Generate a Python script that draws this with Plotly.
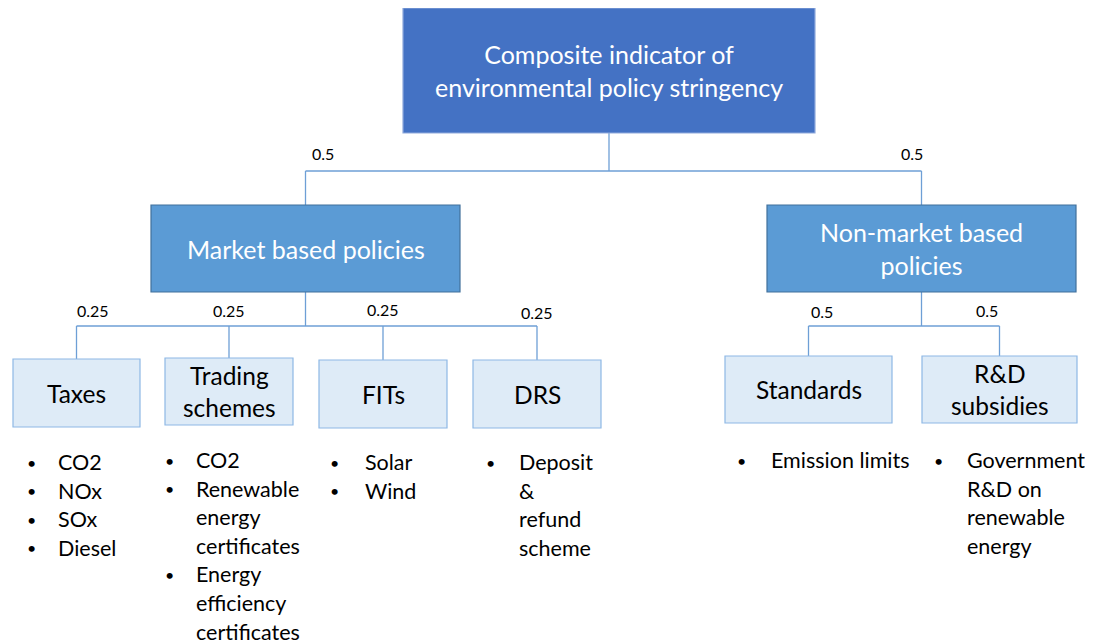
import plotly.graph_objects as go

# ---------------- data ----------------
root_label = ["Composite indicator of", "environmental policy stringency"]
group_labels = [["Market based policies"], ["Non-market based", "policies"]]
group_weights = ["0.5", "0.5"]
market_labels = [["Taxes"], ["Trading", "schemes"], ["FITs"], ["DRS"]]
market_weights = ["0.25", "0.25", "0.25", "0.25"]
nonmarket_labels = [["Standards"], ["R&D", "subsidies"]]
nonmarket_weights = ["0.5", "0.5"]
market_items = [
    [["CO2"], ["NOx"], ["SOx"], ["Diesel"]],
    [["CO2"], ["Renewable", "energy", "certificates"], ["Energy", "efficiency", "certificates"]],
    [["Solar"], ["Wind"]],
    [["Deposit", "&", "refund", "scheme"]],
]
nonmarket_items = [
    [["Emission limits"]],
    [["Government", "R&D on", "renewable", "energy"]],
]

# ---------------- layout (pixel space) ----------------
W, H = 1093, 642
OFF = 8  # page body margin
FONT = "Lato, 'Open Sans', sans-serif"
LINE = "#6E9FD6"

root_box = (403, 8, 815, 133)
group_boxes = [(151, 205, 460, 292), (767, 205, 1076, 292)]
group_wpos = [(323, 153), (912, 153)]
bar_y_top = 171
market_boxes = [(13, 359, 140, 427), (165, 358, 293, 425), (319, 360, 447, 428), (473, 360, 601, 428)]
market_wpos = [(93, 310), (229, 310), (383, 309), (537, 312)]
nonmarket_boxes = [(725, 356, 892, 423), (922, 356, 1077, 423)]
nonmarket_wpos = [(822, 311), (987, 310)]
bar_y_mid = 326
market_item_x = [(31, 56), (169, 194), (334, 363), (490, 517)]
nonmarket_item_x = [(741, 769), (938, 965)]
item_y0 = [462, 460, 462, 462]
nm_item_y0 = [460, 460]
LINE_H = 28.6

shapes = []
ann = []


def box(b, fill, border, lines, color, size, bw=1.2):
    x0, y0, x1, y1 = b
    shapes.append(dict(type="rect", x0=x0, y0=y0, x1=x1, y1=y1, xref="x", yref="y",
                       fillcolor=fill, line=dict(color=border, width=bw), layer="above"))
    ann.append(dict(x=(x0 + x1) / 2, y=(y0 + y1) / 2, xref="x", yref="y",
                    text="<br>".join(lines), showarrow=False,
                    font=dict(family=FONT, size=size, color=color), align="center",
                    xanchor="center", yanchor="middle"))


def seg(x0, y0, x1, y1):
    shapes.append(dict(type="line", x0=x0, y0=y0, x1=x1, y1=y1, xref="x", yref="y",
                       line=dict(color=LINE, width=1.3), layer="below"))


def label(x, y, t):
    ann.append(dict(x=x, y=y, xref="x", yref="y", text=t, showarrow=False,
                    font=dict(family=FONT, size=16, color="#000000"),
                    xanchor="center", yanchor="middle"))


def connect(parent, children, ybar):
    px = (parent[0] + parent[2]) / 2
    seg(px, parent[3], px, ybar)
    cxs = [(c[0] + c[2]) / 2 for c in children]
    seg(min(cxs), ybar, max(cxs), ybar)
    for c, cx in zip(children, cxs):
        seg(cx, ybar, cx, c[1])


def items(groups, xs, y0):
    y = y0
    for lines in groups:
        ann.append(dict(x=xs[0], y=y, xref="x", yref="y", text="•", showarrow=False,
                        font=dict(family=FONT, size=16, color="#000000"),
                        xanchor="center", yanchor="middle"))
        for ln in lines:
            ann.append(dict(x=xs[1], y=y, xref="x", yref="y", text=ln, showarrow=False,
                            font=dict(family=FONT, size=21.5, color="#000000"),
                            xanchor="left", yanchor="middle"))
            y += LINE_H


connect(root_box, group_boxes, bar_y_top)
connect(group_boxes[0], market_boxes, bar_y_mid)
connect(group_boxes[1], nonmarket_boxes, bar_y_mid)

box(root_box, "#4472C4", "#8FAADC", root_label, "white", 25)
for b, lab in zip(group_boxes, group_labels):
    box(b, "#5B9BD5", "#41719C", lab, "white", 25)
for b, lab in zip(market_boxes, market_labels):
    box(b, "#DEEBF7", "#8EB8E5", lab, "black", 24.5)
for b, lab in zip(nonmarket_boxes, nonmarket_labels):
    box(b, "#DEEBF7", "#8EB8E5", lab, "black", 24.5)

for (x, y), w in zip(group_wpos, group_weights):
    label(x, y, w)
for (x, y), w in zip(market_wpos, market_weights):
    label(x, y, w)
for (x, y), w in zip(nonmarket_wpos, nonmarket_weights):
    label(x, y, w)

for grp, xs, y0 in zip(market_items, market_item_x, item_y0):
    items(grp, xs, y0)
for grp, xs, y0 in zip(nonmarket_items, nonmarket_item_x, nm_item_y0):
    items(grp, xs, y0)

fig = go.Figure()
fig.update_layout(
    width=W, height=H, margin=dict(l=0, r=0, t=0, b=0),
    paper_bgcolor="white", plot_bgcolor="white",
    xaxis=dict(range=[OFF, W + OFF], visible=False, fixedrange=True),
    yaxis=dict(range=[H + OFF, OFF], visible=False, fixedrange=True),
    shapes=shapes, annotations=ann, showlegend=False,
)
fig.write_html("out.html")
